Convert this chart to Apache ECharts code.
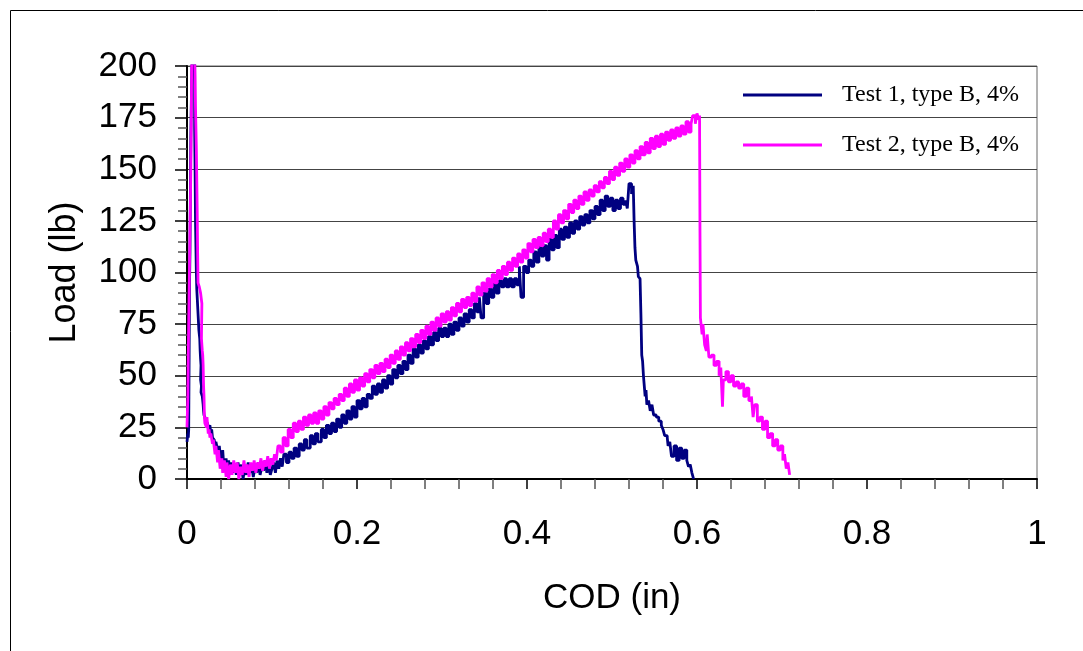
<!DOCTYPE html>
<html>
<head>
<meta charset="utf-8">
<script src="https://cdn.jsdelivr.net/npm/echarts@6/dist/echarts.min.js"></script>
<style>html,body{margin:0;padding:0;background:#fff;}#c{width:1083px;height:651px;}</style>
</head>
<body>
<div id="c"></div>
<script>
const seriesNames = ['Test 1, type B, 4%', 'Test 2, type B, 4%'];
const xTicks = [0, 0.2, 0.4, 0.6, 0.8, 1];
const yTicks = [0, 25, 50, 75, 100, 125, 150, 175, 200];

const cod1 = [0.000,0.001,0.0015,0.002,0.0025,0.003,0.0035,0.004,0.0045,0.005,0.006,0.008,0.009,0.0095,0.010,0.011,0.0115,0.012,0.013,0.014,0.015,0.0155,0.016,0.0165,0.016,0.017,0.0165,0.018,0.019,0.0195,0.020,0.021,0.022,0.024,0.025,0.027,0.028,0.029,0.030,0.032,0.033,0.034,0.036,0.038,0.039,0.041,0.042,0.043,0.046,0.047,0.049,0.050,0.052,0.054,0.056,0.058,0.060,0.062,0.064,0.066,0.068,0.070,0.072,0.074,0.076,0.078,0.080,0.082,0.084,0.086,0.088,0.090,0.092,0.094,0.096,0.098,
0.100,0.102,0.104,0.106,0.108,0.110,0.112,0.114,0.117,0.120,0.123,0.126,0.129,0.132,0.135,0.138,0.141,0.145,0.148,0.151,0.154,0.158,0.161,0.164,0.167,0.170,0.173,0.176,0.179,0.182,0.185,0.188,0.191,0.194,0.197,0.200,0.203,0.206,0.209,0.212,0.215,0.218,0.221,0.224,0.227,0.230,0.233,0.236,0.239,0.242,0.245,0.248,0.251,0.254,0.257,0.260,0.263,0.266,0.269,0.272,0.275,0.278,0.281,0.284,0.287,0.290,0.293,0.296,0.299,0.302,0.305,0.308,0.311,0.314,0.317,0.320,0.323,0.326,0.329,0.332,0.335,0.338,0.341,0.344,0.346,0.349,0.352,0.355,0.358,0.361,0.364,0.367,0.370,0.373,0.376,0.379,0.382,0.385,0.388,0.391,0.393,0.396,0.399,0.402,0.405,0.408,0.411,0.414,0.417,0.420,0.423,0.426,0.429,0.432,0.435,0.438,0.441,0.444,0.447,0.450,0.453,0.456,0.459,0.462,0.465,0.468,0.471,0.474,0.477,0.480,0.483,0.486,0.489,0.492,0.495,0.498,0.501,0.504,0.507,0.510,0.513,0.516,0.518,0.520,0.523,0.525,
0.526,0.527,0.528,0.530,0.531,0.533,0.534,0.535,0.536,0.537,0.538,0.539,0.540,0.541,0.543,0.545,0.547,0.549,0.552,0.555,0.558,0.560,0.562,0.565,0.566,0.568,0.570,0.573,0.576,0.579,0.582,0.585,0.588,0.590,0.592,0.594,0.596];
const load1 = [18,22,20,24,60,95,110,140,165,180,205,205,170,150,125,100,92,88,80,72,68,62,58,55,48,45,42,40,36,33,31,30,28,27,25,26,22,24,20,19,15,18,14,16,12,10,14,8,10,5,9,4,8,3,7,2,8,3,7,0,6,2,8,3,7,1,6,3,8,2,6,4,9,3,7,2,
5,8,3,9,5,10,6,12,8,13,10,15,11,17,14,19,15,21,17,22,18,24,20,26,22,27,23,29,25,31,27,33,29,35,30,38,34,39,35,41,39,45,41,46,42,48,44,50,46,53,49,55,51,57,53,60,56,63,59,65,61,67,63,69,65,71,67,73,69,73,69,75,70,76,72,78,74,80,76,82,78,85,81,88,78,90,85,92,88,95,90,96,93,97,93,97,93,97,94,103,88,103,100,106,103,110,105,112,108,113,106,116,111,118,112,121,116,122,117,124,119,125,121,127,123,128,124,130,126,132,128,135,130,137,132,136,130,135,131,136,133,135,131,143,138,142,
125,112,106,103,98,97,80,60,57,50,45,40,43,36,38,33,36,31,30,28,26,24,21,20,16,18,11,16,9,15,10,14,9,6,7,3,0];

const cod2 = [0.000,0.001,0.0015,0.002,0.0025,0.003,0.0035,0.004,0.0045,0.005,0.0055,0.006,0.009,0.0095,0.010,0.011,0.012,0.0125,0.013,0.0145,0.016,0.0175,0.017,0.018,0.0185,0.019,0.0195,0.020,0.0205,0.021,0.023,0.0235,0.025,0.026,0.027,0.028,0.030,0.031,0.033,0.034,0.036,0.037,0.039,0.041,0.042,0.044,0.046,0.047,0.049,0.051,0.053,0.055,0.057,0.059,0.061,0.063,0.065,0.067,0.069,0.071,0.073,0.075,0.077,0.079,0.081,0.083,0.085,0.087,0.089,0.091,0.093,0.095,0.097,0.099,
0.101,0.103,0.105,0.107,0.110,0.113,0.116,0.119,0.122,0.125,0.128,0.131,0.134,0.137,0.140,0.143,0.146,0.149,0.152,0.155,0.158,0.161,0.164,0.167,0.170,0.173,0.176,0.179,0.182,0.185,0.188,0.191,0.194,0.197,0.200,0.203,0.206,0.209,0.212,0.215,0.218,0.221,0.224,0.227,0.230,0.233,0.236,0.239,0.242,0.245,0.248,0.251,0.254,0.257,0.260,0.263,0.266,0.269,0.272,0.275,0.278,0.281,0.284,0.287,0.290,0.293,0.296,0.299,0.302,0.305,0.308,0.311,0.314,0.317,0.320,0.323,0.326,0.329,0.332,0.335,0.338,0.341,0.344,0.347,0.350,0.353,0.356,0.359,0.362,0.365,0.368,0.371,0.374,0.377,0.380,0.383,0.386,0.389,0.392,0.395,0.398,0.401,0.404,0.407,0.410,0.413,0.416,0.419,0.422,0.425,0.428,0.431,0.434,0.437,0.440,0.443,0.446,0.449,0.452,0.455,0.458,0.461,0.464,0.467,0.470,0.473,0.476,0.479,0.482,0.485,0.488,0.491,0.494,0.497,0.500,0.503,0.506,0.509,0.512,0.515,0.518,0.521,0.524,0.527,0.530,0.533,0.536,0.539,0.542,0.545,0.548,0.551,0.554,0.557,0.560,0.563,0.566,0.569,0.572,0.575,0.578,0.581,0.584,0.587,0.590,0.593,0.595,0.598,0.600,0.602,0.603,
0.6035,0.604,0.606,0.607,0.609,0.611,0.612,0.614,0.617,0.620,0.623,0.626,0.628,0.630,0.631,0.634,0.637,0.640,0.643,0.646,0.649,0.652,0.655,0.658,0.661,0.664,0.666,0.668,0.671,0.674,0.677,0.680,0.683,0.686,0.689,0.692,0.695,0.698,0.701,0.703,0.705,0.707,0.709];
const load2 = [25,40,60,75,90,105,120,133,150,173,200,205,205,195,180,160,130,110,95,93,90,85,68,62,60,55,45,40,30,27,25,30,22,24,20,22,17,19,12,16,8,14,5,10,3,9,1,8,0,7,2,9,3,8,0,6,2,9,3,7,1,8,4,9,3,8,5,10,4,9,6,11,5,10,
7,12,9,16,13,20,16,24,20,27,23,28,24,30,26,31,27,32,27,33,29,35,31,37,34,39,36,41,38,44,40,46,42,48,43,49,45,51,47,53,49,55,51,56,52,58,54,60,56,62,58,64,60,66,62,68,64,70,66,72,68,74,70,76,72,78,74,80,76,81,77,83,79,85,81,87,83,88,84,90,86,93,89,95,91,97,93,99,95,101,97,103,99,105,101,107,103,109,105,111,107,114,110,116,112,117,113,119,115,121,117,125,121,128,124,130,126,133,129,135,131,137,133,139,135,140,137,142,139,144,141,146,143,149,145,151,147,153,149,155,151,157,153,159,155,161,157,163,158,165,160,166,161,167,162,168,164,169,165,170,166,171,167,173,168,172,176,172,177,174,176,
120,78,70,75,65,62,70,59,60,55,57,50,54,35,48,52,47,50,45,47,44,46,40,44,38,40,30,36,28,30,24,28,20,22,16,19,14,16,9,12,5,8,2];

function pairs(xs, ys) { return xs.map((x, i) => [x, ys[i]]); }

const chart = echarts.init(document.getElementById('c'), null, { renderer: 'canvas' });
chart.setOption({
  backgroundColor: '#ffffff',
  animation: false,
  graphic: [{
    type: 'rect', silent: true, z: -10,
    shape: { x: 10.5, y: 10.5, width: 1100, height: 700 },
    style: { fill: 'none', stroke: '#000', lineWidth: 1 }
  }],
  grid: { left: 187, right: 46, top: 66, bottom: 172, show: true, borderColor: '#666', borderWidth: 1, backgroundColor: 'transparent' },
  legend: {
    orient: 'vertical', left: 743, top: 83, itemGap: 26, padding: 0,
    icon: 'rect', itemWidth: 79, itemHeight: 3,
    textStyle: { fontFamily: 'Liberation Serif', fontSize: 24, color: '#000', padding: [0, 0, 0, 15] },
    data: seriesNames
  },
  xAxis: {
    type: 'value', min: 0, max: 1, interval: 0.2,
    name: 'COD (in)', nameLocation: 'middle', nameGap: 102,
    nameTextStyle: { fontFamily: 'Liberation Sans', fontSize: 35, color: '#000' },
    axisLine: { show: true, onZero: false, lineStyle: { color: '#000', width: 2 } },
    axisTick: { show: true, length: 10, lineStyle: { color: '#000', width: 1.5 } },
    minorTick: { show: true, splitNumber: 5, length: 10, lineStyle: { color: '#555', width: 1.5 } },
    axisLabel: { margin: 38, fontFamily: 'Liberation Sans', fontSize: 35, color: '#000',
      formatter: v => { const i = xTicks.findIndex(t => Math.abs(t - v) < 1e-9); return i >= 0 ? String(xTicks[i]) : ''; } },
    splitLine: { show: false }
  },
  yAxis: {
    type: 'value', min: 0, max: 200, interval: 25,
    name: 'Load (lb)', nameLocation: 'middle', nameGap: 104, nameRotate: 90,
    nameTextStyle: { fontFamily: 'Liberation Sans', fontSize: 36, color: '#000' },
    axisLine: { show: true, onZero: false, lineStyle: { color: '#000', width: 2 } },
    axisTick: { show: true, length: 12, lineStyle: { color: '#000', width: 1.5 } },
    minorTick: { show: true, splitNumber: 5, length: 9, lineStyle: { color: '#555', width: 1.5 } },
    axisLabel: { margin: 30, fontFamily: 'Liberation Sans', fontSize: 35, color: '#000',
      formatter: v => { const i = yTicks.indexOf(v); return i >= 0 ? String(yTicks[i]) : ''; } },
    splitLine: { show: true, lineStyle: { color: '#444', width: 1.2 } }
  },
  series: [
    { name: seriesNames[0], type: 'line', step: 'end', data: pairs(cod1, load1), showSymbol: false, symbol: 'none',
      lineStyle: { color: '#000080', width: 2.8 }, itemStyle: { color: '#000080' }, clip: true, z: 2 },
    { name: seriesNames[1], type: 'line', step: 'end', data: pairs(cod2, load2), showSymbol: false, symbol: 'none',
      lineStyle: { color: '#FF00FF', width: 2.8 }, itemStyle: { color: '#FF00FF' }, clip: true, z: 3 }
  ]
});
</script>
</body>
</html>
